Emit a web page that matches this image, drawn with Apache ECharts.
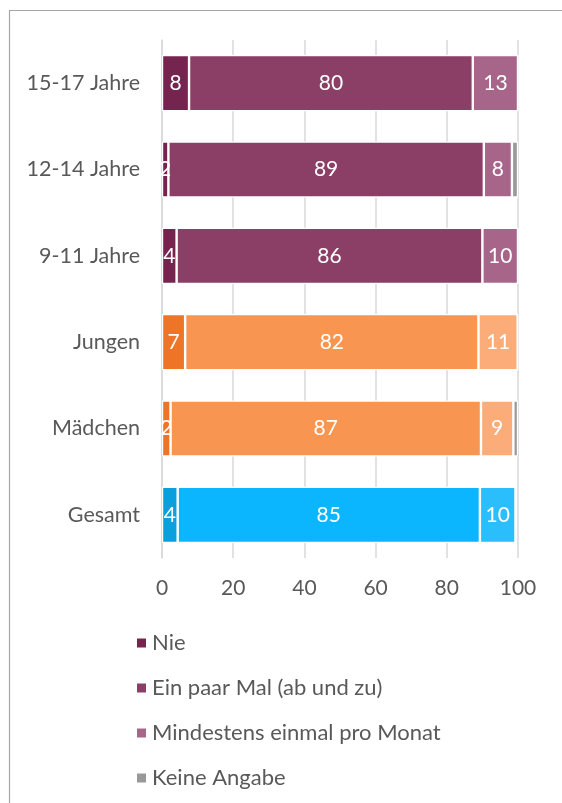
<!DOCTYPE html>
<html><head><meta charset="utf-8">
<script src="https://cdn.jsdelivr.net/npm/echarts@6/dist/echarts.min.js"></script>
<style>html,body{margin:0;padding:0;background:#fff}#c{width:562px;height:803px}</style>
</head><body><div id="c"></div>
<script>
const categories = ['15-17 Jahre','12-14 Jahre','9-11 Jahre','Jungen','Mädchen','Gesamt'];
const seriesNames = ['Nie','Ein paar Mal (ab und zu)','Mindestens einmal pro Monat','Keine Angabe'];
const nie = [7.6, 1.8, 4.1, 6.5, 2.4, 4.4];
const einPaarMal = [79.7, 88.6, 85.9, 82.4, 87.2, 84.9];
const mindestens = [12.7, 7.9, 10.0, 11.0, 9.1, 10.0];
const keineAngabe = [0, 1.7, 0, 0, 1.3, 0];
const xTicks = [0, 20, 40, 60, 80, 100];

const values = [nie, einPaarMal, mindestens, keineAngabe];
// colour per category group (purple = age, orange = gender, blue = total)
const groupOf = [0,0,0,1,1,2];
const palette = [
  ['#74244F','#EE7428','#0AA0DE'],
  ['#8B3E66','#F89651','#0BB6FE'],
  ['#A76689','#FBAC78','#2BBEFC'],
  ['#999999','#999999','#999999']
];
const FONT = 'Lato';
const chart = echarts.init(document.getElementById('c'), null, {renderer:'canvas'});
chart.setOption({
  animation:false,
  textStyle:{fontFamily:FONT},
  grid:{left:162, right:44, top:40, bottom:245, containLabel:false},
  xAxis:{type:'value', min:0, max:100, interval:20,
    axisLabel:{color:'#595959', fontSize:21, fontFamily:FONT, margin:20,
      formatter:v=> xTicks.includes(v)? String(v):''},
    splitLine:{lineStyle:{color:'#d9d9d9', width:1.5}},
    axisLine:{show:false}, axisTick:{show:false}},
  yAxis:{type:'category', data:categories, inverse:true,
    axisLabel:{color:'#595959', fontSize:21.5, fontFamily:FONT, margin:22},
    axisLine:{show:true, lineStyle:{color:'#d9d9d9', width:1.5}},
    axisTick:{show:false}},
  legend:{orient:'vertical', left:130, top:626, itemWidth:11, itemHeight:11, itemGap:21,
    icon:'rect', textStyle:{color:'#595959', fontSize:22, fontFamily:FONT, lineHeight:24},
    data:seriesNames},
  series: seriesNames.map((name,si)=>({
    name, type:'bar', stack:'all', barWidth:'65%',
    itemStyle:{color:palette[si][0], borderColor:'#fff', borderWidth:1.2},
    label:{show: si<3, position:'inside', color:'#fff', fontSize:21, fontFamily:FONT,
      formatter:p=> p.value>0 ? String(Math.round(p.value)) : ''},
    data: values[si].map((v,ci)=>({value:v, itemStyle:{color:palette[si][groupOf[ci]]}}))
  })),
  graphic:[{type:'rect', shape:{x:9.5,y:10.5,width:700,height:900},
    style:{fill:'none', stroke:'#a6a6a6', lineWidth:1.2}, silent:true, z:-1}]
});
</script></body></html>
